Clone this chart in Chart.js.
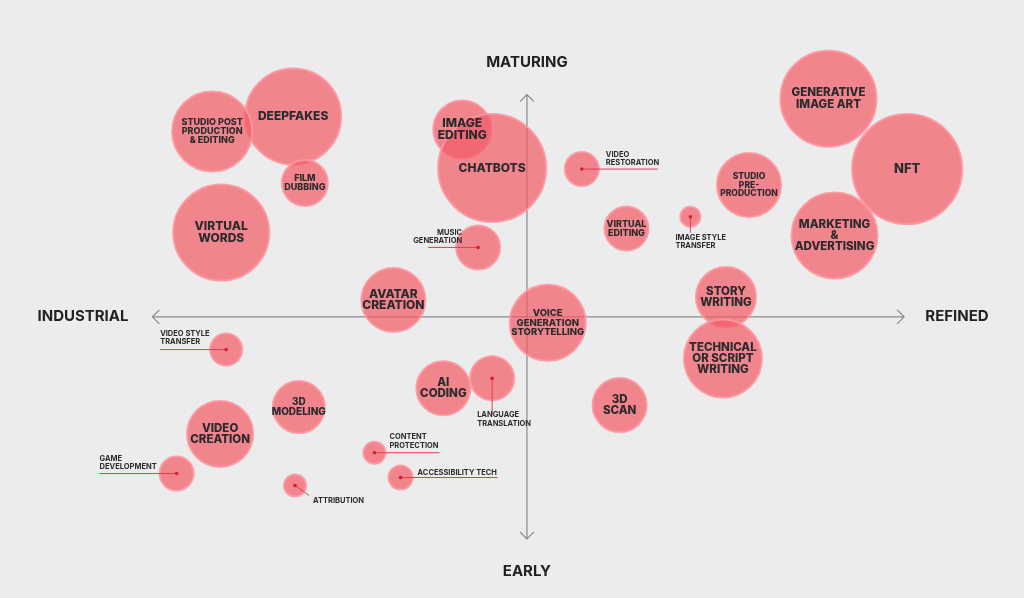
<!DOCTYPE html>
<html><head><meta charset="utf-8">
<script src="https://cdn.jsdelivr.net/npm/chart.js@4/dist/chart.umd.min.js"></script>
<style>html,body{margin:0;padding:0;background:#ececec;}#w{width:1024px;height:598px;}</style>
</head><body><div id="w"><canvas id="c"></canvas></div>
<script>
// Data (x: industrial(-) to refined(+), y: early(-) to maturing(+), r: bubble radius)
const names = ["DEEPFAKES","STUDIO POST|PRODUCTION|& EDITING","FILM|DUBBING","VIRTUAL|WORDS","IMAGE|EDITING","CHATBOTS","VIDEO|RESTORATION","STUDIO|PRE-|PRODUCTION","GENERATIVE|IMAGE ART","NFT","MARKETING|&|ADVERTISING","VIRTUAL|EDITING","IMAGE STYLE|TRANSFER","MUSIC|GENERATION","AVATAR|CREATION","VOICE|GENERATION|STORYTELLING","STORY|WRITING","TECHNICAL|OR SCRIPT|WRITING","VIDEO STYLE|TRANSFER","AI|CODING","LANGUAGE|TRANSLATION","3D|SCAN","3D|MODELING","VIDEO|CREATION","CONTENT|PROTECTION","GAME|DEVELOPMENT","ACCESSIBILITY TECH","ATTRIBUTION"];
const xVals = [-6.18,-8.32,-5.87,-8.08,-1.71,-0.92,1.45,5.87,7.97,10.05,8.13,2.63,4.32,-1.29,-3.53,0.55,5.26,5.18,-7.95,-2.21,-0.92,2.45,-6.03,-8.11,-4.03,-9.26,-3.34,-6.13];
const yVals = [8.08,7.48,5.40,3.40,7.56,6.00,5.96,5.32,8.80,5.96,3.28,3.56,4.04,2.80,0.68,-0.24,0.80,-1.68,-1.32,-2.88,-2.48,-3.56,-3.64,-4.72,-5.48,-6.32,-6.48,-6.80];
const rVals = [48,40,23,48,29,54,17,32,48,55,43,22,10,22,32,38,30,39,16,27,22,27,26,33,11,17,12,11];
const fontSizes = [12,9,9,12,12,12,0,8.5,11.5,13,11.5,9,0,0,12,9.5,11.5,11.5,0,11.5,0,11.5,10,11.5,0,0,0,0];
const axisLabels = ["MATURING","EARLY","INDUSTRIAL","REFINED"];

// Label layout for small bubbles (offsets relative to bubble centre, px)
const outside = {
  6:{tx:24,ty:-10.5,align:'left',line:[[0,0],[76,0]]},
  12:{tx:-15,ty:25,align:'left',line:[[0,0],[0,16]]},
  13:{tx:-16,ty:-10.5,align:'right',line:[[0,0],[-50,0]]},
  18:{tx:-66,ty:-12,align:'left',line:[[0,0],[-66,0]]},
  20:{tx:-15,ty:41,align:'left',line:[[0,0],[0,36]]},
  24:{tx:15,ty:-11.5,align:'left',line:[[0,0],[65,0]]},
  25:{tx:-77,ty:-11,align:'left',line:[[0,0],[-77,0]]},
  26:{tx:17,ty:-5,align:'left',line:[[0,0],[97,0]]},
  27:{tx:18,ty:15,align:'left',line:[[0,0],[14,10]]}
};
const CX=527, CY=317, SX=38, SY=25, PAD=55;

const labelPlugin = {
  id:'labels',
  beforeDatasetsDraw(chart){
    const ctx=chart.ctx, xs=chart.scales.x, ys=chart.scales.y;
    ctx.save();
    ctx.strokeStyle='#8a8a8a'; ctx.lineWidth=1.2;
    const l=xs.getPixelForValue(-9.9), r=xs.getPixelForValue(9.97), t=ys.getPixelForValue(8.96), b=ys.getPixelForValue(-8.96);
    const cx=xs.getPixelForValue(0), cy=ys.getPixelForValue(0);
    ctx.beginPath();
    ctx.moveTo(l,cy);ctx.lineTo(r,cy);ctx.moveTo(cx,t);ctx.lineTo(cx,b);
    ctx.moveTo(l+7,cy-7);ctx.lineTo(l,cy);ctx.lineTo(l+7,cy+7);
    ctx.moveTo(r-7,cy-7);ctx.lineTo(r,cy);ctx.lineTo(r-7,cy+7);
    ctx.moveTo(cx-7,t+7);ctx.lineTo(cx,t);ctx.lineTo(cx+7,t+7);
    ctx.moveTo(cx-7,b-7);ctx.lineTo(cx,b);ctx.lineTo(cx+7,b-7);
    ctx.stroke();
    ctx.fillStyle='#222'; ctx.font='bold 15px Inter, "Noto Sans", sans-serif';
    ctx.textAlign='center'; ctx.textBaseline='middle';
    ctx.fillText(axisLabels[0],cx,62);
    ctx.fillText(axisLabels[1],cx,571);
    ctx.fillText(axisLabels[2],83,cy);
    ctx.fillText(axisLabels[3],957,cy);
    ctx.restore();
  },
  afterDatasetsDraw(chart){
    const ctx=chart.ctx, meta=chart.getDatasetMeta(0);
    ctx.save();
    meta.data.forEach((el,i)=>{
      const lines=names[i].split('|');
      const o=outside[i];
      if(!o){
        const fs=fontSizes[i];
        ctx.fillStyle='#2b2b2b'; ctx.font=`800 ${fs}px Inter, "Noto Sans", sans-serif`;
        ctx.textAlign='center'; ctx.textBaseline='middle';
        const lh=fs*0.98, y0=el.y-(lines.length-1)*lh/2;
        lines.forEach((s,k)=>ctx.fillText(s,el.x,y0+k*lh));
      } else {
        ctx.strokeStyle='#e0404c'; ctx.lineWidth=1;
        ctx.beginPath();
        ctx.moveTo(el.x+o.line[0][0],el.y+o.line[0][1]);
        ctx.lineTo(el.x+o.line[1][0],el.y+o.line[1][1]);
        ctx.stroke();
        ctx.fillStyle='#d02030';
        ctx.beginPath();ctx.arc(el.x,el.y,1.8,0,Math.PI*2);ctx.fill();
        ctx.fillStyle='#2b2b2b'; ctx.font='700 7.5px Inter, "Noto Sans", sans-serif';
        ctx.textAlign=o.align; ctx.textBaseline='middle';
        const lh=8.5, y0=el.y+o.ty-(lines.length-1)*lh/2;
        lines.forEach((s,k)=>ctx.fillText(s,el.x+o.tx,y0+k*lh));
      }
    });
    ctx.restore();
  }
};

new Chart(document.getElementById('c'),{
  type:'bubble',
  data:{datasets:[{
    data:xVals.map((x,i)=>({x:x,y:yVals[i],r:rVals[i]})),
    backgroundColor:'rgba(242,92,104,0.72)',
    borderColor:'rgba(255,150,158,0.9)',
    borderWidth:2, hoverRadius:0, clip:false
  }]},
  options:{
    responsive:true, maintainAspectRatio:false, animation:false,
    layout:{padding:0},
    plugins:{legend:{display:false},tooltip:{enabled:false}},
    scales:{
      x:{display:false,min:(PAD-CX)/SX,max:(1024-PAD-CX)/SX},
      y:{display:false,min:-(598-PAD-CY)/SY,max:(CY-PAD)/SY}
    }
  },
  plugins:[labelPlugin]
});
</script></body></html>
